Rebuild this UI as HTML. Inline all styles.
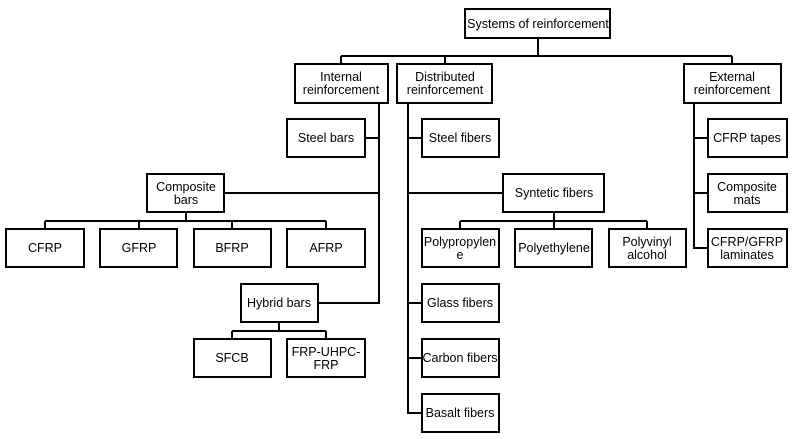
<!DOCTYPE html>
<html><head><style>html,body{margin:0;padding:0;background:#fff}svg{display:block}</style></head><body>
<svg width="793" height="439" viewBox="0 0 793 439" xmlns="http://www.w3.org/2000/svg" font-family="Liberation Sans, Arial, sans-serif" font-size="12.5" fill="#000">
<g stroke="#000" stroke-width="2" fill="none">
<path d="M538 38V56M341 56H732M341 56V64M445 56V64M732 56V64"/>
<path d="M379 103V303H318M365 138H379M224 193H379"/>
<path d="M186 212V221M45 221H326M45 221V229M139 221V229M232 221V229M326 221V229"/>
<path d="M279 322V331M232 331H326M232 331V339M326 331V339"/>
<path d="M408 103V413H422M408 138H422M408 193H503M408 303H422M408 358H422"/>
<path d="M554 212V221M460 221H647M460 221V229M554 221V229M647 221V229"/>
<path d="M694 103V248H708M694 138H708M694 193H708"/>
</g>
<g stroke="#000" stroke-width="2" fill="#fff">
<rect x="465" y="9" width="145" height="29"/>
<rect x="295" y="64" width="93" height="39"/>
<rect x="397" y="64" width="95" height="39"/>
<rect x="684" y="64" width="97" height="39"/>
<rect x="287" y="119" width="78" height="38"/>
<rect x="147" y="174" width="77" height="38"/>
<rect x="6" y="229" width="78" height="38"/>
<rect x="100" y="229" width="77" height="38"/>
<rect x="194" y="229" width="77" height="38"/>
<rect x="287" y="229" width="78" height="38"/>
<rect x="241" y="284" width="77" height="38"/>
<rect x="194" y="339" width="77" height="38"/>
<rect x="287" y="339" width="78" height="38"/>
<rect x="422" y="119" width="77" height="38"/>
<rect x="503" y="174" width="101" height="38"/>
<rect x="422" y="229" width="77" height="38"/>
<rect x="515" y="229" width="77" height="38"/>
<rect x="609" y="229" width="77" height="38"/>
<rect x="422" y="284" width="77" height="38"/>
<rect x="422" y="339" width="77" height="38"/>
<rect x="422" y="394" width="77" height="38"/>
<rect x="708" y="119" width="79" height="38"/>
<rect x="708" y="174" width="79" height="38"/>
<rect x="708" y="229" width="79" height="38"/>
</g>
<g text-anchor="middle">
<text x="538" y="28">Systems of reinforcement</text>
<text x="341" y="81">Internal</text><text x="341" y="94">reinforcement</text>
<text x="445" y="81">Distributed</text><text x="445" y="94">reinforcement</text>
<text x="732" y="81">External</text><text x="732" y="94">reinforcement</text>
<text x="326" y="142">Steel bars</text>
<text x="186" y="191">Composite</text><text x="186" y="204">bars</text>
<text x="45" y="252">CFRP</text>
<text x="139" y="252">GFRP</text>
<text x="232" y="252">BFRP</text>
<text x="326" y="252">AFRP</text>
<text x="279" y="307">Hybrid bars</text>
<text x="232" y="362">SFCB</text>
<text x="326" y="356">FRP-UHPC-</text><text x="326" y="369">FRP</text>
<text x="460" y="142">Steel fibers</text>
<text x="554" y="197">Syntetic fibers</text>
<text x="460" y="246">Polypropylen</text><text x="460" y="259">e</text>
<text x="554" y="252">Polyethylene</text>
<text x="647" y="246">Polyvinyl</text><text x="647" y="259">alcohol</text>
<text x="460" y="307">Glass fibers</text>
<text x="460" y="362">Carbon fibers</text>
<text x="460" y="417">Basalt fibers</text>
<text x="747" y="142">CFRP tapes</text>
<text x="747" y="191">Composite</text><text x="747" y="204">mats</text>
<text x="747" y="246">CFRP/GFRP</text><text x="747" y="259">laminates</text>
</g>
</svg>
</body></html>
